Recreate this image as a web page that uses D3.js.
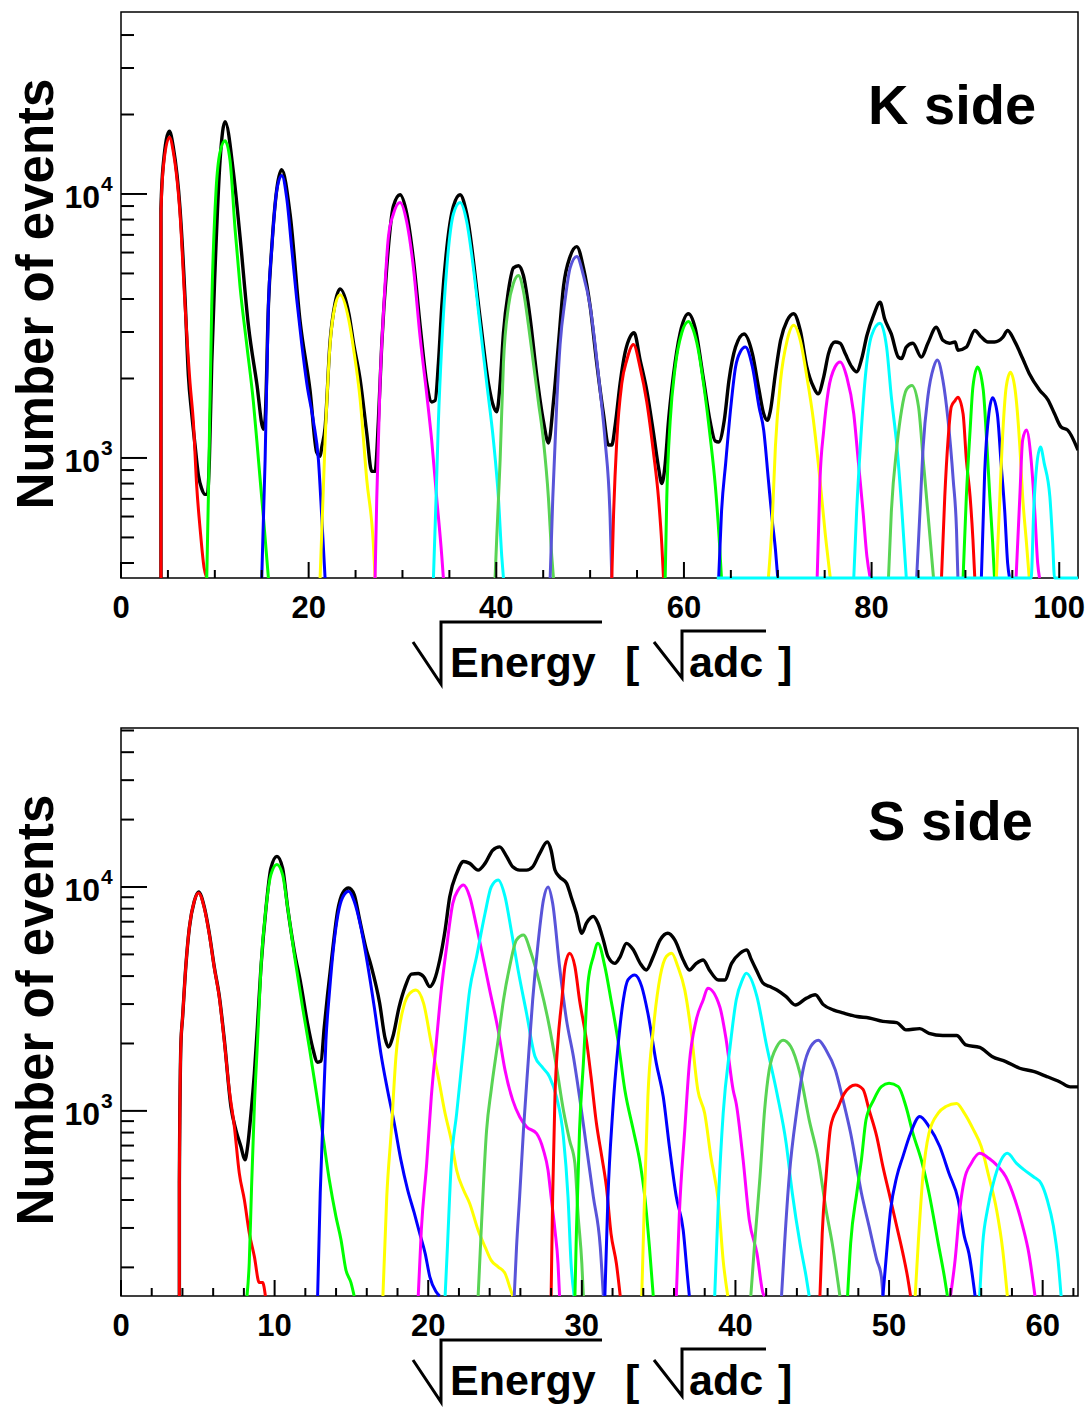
<!DOCTYPE html>
<html><head><meta charset="utf-8">
<script src="https://cdn.jsdelivr.net/npm/d3@7"></script>
<style>body{margin:0;background:#fff}svg{display:block}</style>
</head><body>
<svg id="c" width="1092" height="1411"></svg>
<script>
// ---------------- DATA ----------------
// K side: x = sqrt(energy) [sqrt(adc)], y = number of events (0 = empty bin)
const kTotal = [[4.26,0],[4.26,8800],[4.51,13000],[5.16,17300],[5.58,15000],[6.29,8800],[6.83,4000],[7.18,2060],[7.54,1470],[7.89,1120],[8.25,860],[8.6,765],[8.96,728],[9.21,728],[9.42,984],[9.67,2280],[10.03,5250],[10.56,13400],[11.09,18800],[11.98,12100],[12.69,6870],[13.58,3180],[14.47,1920],[15.18,1285],[15.36,1400],[15.71,3760],[16.07,6300],[16.6,10400],[17.13,12350],[18.02,8400],[19.09,3290],[20.15,1800],[20.86,1050],[21.22,1015],[21.4,1100],[21.75,1300],[22.28,2750],[22.81,3850],[23.35,4370],[24.3,3500],[24.8,2700],[25.48,1990],[26.19,1245],[26.72,890],[27.08,890],[27.43,1375],[27.79,2690],[28.32,5250],[29.03,8980],[29.74,9930],[30.46,8400],[31.17,5620],[31.88,3180],[32.59,1920],[33.12,1630],[33.48,1650],[33.83,2280],[34.19,3760],[34.72,6210],[35.43,8980],[36.14,9930],[36.85,8400],[38.27,3400],[39.16,1920],[39.7,1570],[40.05,1495],[40.41,1920],[40.76,2970],[41.29,4290],[41.83,5250],[42.36,5350],[42.89,4910],[43.6,3400],[44.31,2060],[45.03,1375],[45.56,1140],[46.09,1630],[46.62,2690],[47.16,4450],[47.87,5800],[48.58,6320],[49.29,5250],[50.0,3760],[50.71,2280],[51.42,1470],[51.95,1120],[52.31,1120],[52.67,1330],[53.2,1920],[53.73,2510],[54.27,2880],[54.69,2980],[55.33,2350],[56.04,1800],[56.75,1245],[57.29,920],[57.64,800],[58.0,950],[58.35,1375],[58.88,2060],[59.6,2980],[60.48,3520],[61.2,3100],[62.08,1990],[62.79,1375],[63.33,1160],[63.7,1150],[64.3,1390],[64.8,1970],[65.5,2630],[66.4,2950],[67.3,2480],[68.0,1810],[68.5,1470],[68.9,1390],[69.2,1500],[69.75,2090],[70.3,2790],[71.0,3320],[71.7,3520],[72.4,3040],[73.1,2210],[73.8,1860],[74.3,1750],[74.9,2030],[75.4,2480],[76.1,2750],[76.65,2720],[77.2,2480],[77.9,2210],[78.4,2120],[78.95,2380],[79.5,2910],[80.2,3460],[80.9,3890],[81.4,3360],[82.1,2950],[82.85,2410],[83.2,2380],[83.7,2630],[84.4,2720],[85.3,2410],[86.0,2720],[86.9,3130],[87.6,2790],[88.3,2720],[88.9,2750],[89.2,2560],[90.1,2630],[91.0,3040],[91.7,2870],[92.4,2750],[93.1,2750],[94.0,2870],[94.5,3040],[95.2,2790],[96.1,2380],[96.8,2090],[97.9,1810],[98.8,1660],[99.5,1470],[100.2,1310],[100.9,1275],[102.0,1070]];

const kRed1 = [[4.26,0],[4.26,8400],[4.51,12600],[5.16,16400],[5.58,14400],[6.29,8400],[6.83,3760],[7.36,1920],[7.71,1375],[8.07,780],[8.43,540],[8.85,385],[9.14,0]];
const kGreen1 = [[9.14,0],[9.31,703],[9.67,3760],[10.13,10300],[10.56,14400],[11.09,15900],[11.62,13400],[12.16,7350],[12.69,4450],[13.4,2690],[14.11,1630],[14.65,985],[15.18,595],[15.71,0]];
const kBlue1 = [[15.0,0],[15.36,985],[15.71,3760],[16.07,6210],[16.6,10300],[17.13,11750],[17.67,9600],[18.2,6200],[18.73,3990],[19.27,2690],[19.8,1920],[20.51,1375],[21.04,985],[21.4,595],[21.75,0]];
const kYellow1 = [[21.22,0],[21.75,1160],[22.28,2690],[22.81,3760],[23.35,4150],[24.3,3300],[24.8,2570],[25.48,1680],[26.19,830],[26.9,470],[27.08,0]];
const kMagenta1 = [[27.08,0],[27.26,703],[27.61,1920],[27.97,3520],[28.5,6870],[29.03,8400],[29.74,9290],[30.45,7850],[31.17,5250],[31.88,2870],[32.59,1740],[33.12,1160],[33.65,703],[34.19,425],[34.36,0]];
const kCyan1 = [[33.3,0],[33.58,703],[33.83,1375],[34.19,2690],[34.72,5250],[35.43,8400],[36.14,9290],[36.85,7850],[37.56,5250],[38.27,3180],[38.98,1920],[39.7,1160],[40.23,703],[40.58,425],[40.76,0]];
const kGreen8a = [[39.87,0],[40.05,500],[40.41,985],[40.76,2280],[41.3,3760],[41.83,4590],[42.36,4910],[42.89,4290],[43.43,3180],[43.96,2280],[44.49,1630],[45.03,1160],[45.56,703],[45.91,425],[46.09,0]];
const kBlue9a = [[45.74,0],[46.02,703],[46.45,1630],[46.8,2690],[47.34,3990],[47.87,5250],[48.58,5800],[49.29,4910],[50.0,3760],[50.53,2690],[51.07,1800],[51.6,1160],[52.13,595],[52.31,0]];
const kRed2 = [[52.31,0],[52.49,595],[52.84,1160],[53.38,1920],[53.91,2350],[54.62,2690],[55.33,2200],[56.04,1630],[56.75,1050],[57.29,703],[57.64,470],[57.82,0]];
const kGreen2 = [[58.0,0],[58.17,703],[58.53,1375],[59.06,2200],[59.77,2980],[60.48,3290],[61.0,3050],[61.5,2600],[62.1,1900],[62.8,1200],[63.35,780],[63.75,500],[64.0,0]];
const kBlue2 = [[63.7,0],[64.0,620],[64.45,957],[65.0,1565],[65.5,2210],[66.0,2520],[66.55,2630],[67.3,2210],[68.0,1565],[68.5,1275],[69.0,826],[69.4,585],[69.75,451],[70.0,0]];
const kYellow2 = [[69.0,0],[69.4,568],[69.75,1107],[70.3,1970],[71.0,2790],[71.7,3180],[72.4,2790],[73.1,2030],[73.8,1390],[74.5,826],[75.05,520],[75.6,0]];
const kMagenta2 = [[74.2,0],[74.5,826],[74.9,1275],[75.4,1810],[76.1,2210],[76.65,2310],[77.35,2030],[78.1,1470],[78.6,957],[79.1,620],[79.5,424],[79.85,0]];
const kCyan2 = [[78.1,0],[78.4,620],[78.8,1107],[79.3,1970],[80.0,2910],[80.9,3240],[81.6,2630],[82.1,1710],[82.7,1107],[83.2,656],[83.7,0]];
const kGreen8b = [[81.8,0],[82.1,620],[82.7,1107],[83.2,1520],[83.7,1810],[84.3,1880],[85.0,1565],[85.5,986],[86.0,620],[86.4,424],[86.6,0]];
const kBlue9b = [[84.8,0],[85.15,620],[85.5,1107],[86.0,1710],[86.6,2200],[87.0,2350],[87.6,1970],[88.15,1390],[88.7,826],[89.05,535],[89.2,0]];
const kRed3 = [[87.45,0],[87.8,714],[88.15,1170],[88.5,1565],[88.9,1650],[89.2,1700],[89.75,1470],[90.1,986],[90.5,714],[90.8,492],[91.0,0]];
const kGreen3 = [[89.75,0],[90.1,714],[90.5,1275],[90.8,1860],[91.3,2210],[91.9,1810],[92.2,1275],[92.6,714],[92.9,480],[93.1,0]];
const kBlue3 = [[91.7,0],[92.05,875],[92.5,1470],[92.9,1690],[93.4,1470],[93.8,957],[94.2,620],[94.5,400],[94.7,0]];
const kYellow3 = [[93.3,0],[93.6,620],[94.0,1275],[94.35,1860],[94.8,2110],[95.3,1810],[95.8,1107],[96.1,714],[96.5,480],[96.8,0]];
const kMagenta3 = [[95.4,0],[95.8,714],[96.1,1170],[96.5,1275],[97.0,986],[97.4,620],[97.7,400],[97.9,0]];
const kCyan3 = [[63.5,0],[97.0,0],[97.3,656],[97.6,935],[98.0,1100],[98.4,954],[99.0,714],[99.3,480],[99.5,0],[102.0,0]];

// S side
const sTotal = [[3.8,0],[3.8,475],[3.9,1990],[4.01,2620],[4.23,4520],[4.45,6580],[4.77,8630],[5.05,9500],[5.42,8150],[5.75,6200],[6.07,4400],[6.4,3250],[6.72,2100],[7.16,1040],[7.48,821],[7.81,692],[8.07,604],[8.24,692],[8.46,973],[8.68,1466],[8.89,2440],[9.11,4370],[9.44,8070],[9.76,12150],[10.15,13700],[10.52,12150],[10.85,8070],[11.28,5180],[11.71,3680],[12.15,2440],[12.47,1920],[12.8,1650],[13.02,1670],[13.23,2360],[13.45,3320],[13.77,5180],[14.1,7800],[14.43,9400],[14.82,9900],[15.18,9250],[15.51,7280],[15.94,5350],[16.3,4400],[16.83,3050],[17.2,2100],[17.4,1930],[17.7,2150],[18.1,2900],[18.5,3590],[18.9,4080],[19.35,4110],[19.7,3980],[20.1,3590],[20.4,3840],[20.75,4720],[21.1,6430],[21.4,9050],[21.85,11500],[22.3,13000],[22.7,12750],[23.25,11900],[23.7,12750],[24.2,14600],[24.65,15100],[25.1,13700],[25.5,12300],[25.95,11900],[26.4,11900],[26.8,12300],[27.25,14100],[27.75,15900],[28.0,14600],[28.25,11900],[28.55,11100],[29.0,10400],[29.3,9050],[29.65,7630],[30.0,6210],[30.3,6890],[30.75,7380],[31.05,6890],[31.4,5800],[31.7,4890],[32.15,4560],[32.5,4890],[32.9,5600],[33.35,5240],[33.8,4560],[34.2,4260],[34.65,4890],[35.1,5800],[35.6,6210],[36.05,5800],[36.6,4720],[37.0,4260],[37.45,4560],[37.9,4720],[38.3,4260],[38.9,3840],[39.3,3840],[39.75,4560],[40.3,5060],[40.75,5240],[41.0,4800],[41.36,4260],[41.8,3720],[42.2,3600],[42.7,3470],[43.3,3240],[43.9,2970],[44.6,3180],[45.2,3300],[45.7,2990],[46.4,2820],[47.0,2740],[47.9,2640],[48.7,2600],[49.6,2510],[50.5,2480],[51.1,2300],[52.0,2330],[52.6,2220],[53.5,2170],[54.4,2170],[55.0,1970],[55.9,1920],[56.7,1750],[57.6,1660],[58.5,1550],[59.4,1500],[60.2,1430],[61.1,1350],[61.8,1280],[62.3,1280]];

const sRed1 = [[3.8,0],[3.8,475],[3.9,1990],[4.01,2620],[4.23,4520],[4.45,6580],[4.77,8630],[5.05,9400],[5.42,8070],[5.75,6140],[6.07,4370],[6.4,3210],[6.72,2060],[7.05,1240],[7.38,849],[7.7,527],[8.03,401],[8.35,285],[8.68,224],[9.0,171],[9.22,171],[9.4,0]];
const sGreen1 = [[8.2,0],[8.35,210],[8.5,459],[8.68,1040],[8.89,2060],[9.11,4370],[9.44,8070],[9.76,11350],[10.15,12600],[10.52,11350],[10.85,8070],[11.28,5010],[11.82,2900],[12.26,1920],[12.69,1240],[13.12,794],[13.56,492],[13.99,338],[14.32,266],[14.64,195],[14.97,171],[15.18,0]];
const sBlue1 = [[12.8,0],[12.97,430],[13.12,821],[13.34,2060],[13.56,3320],[13.88,5740],[14.21,8070],[14.53,9250],[14.82,9570],[15.18,8630],[15.62,6580],[16.05,4520],[16.49,2900],[16.92,1800],[17.35,1240],[17.79,880],[18.22,604],[18.66,444],[19.09,350],[19.45,283],[19.8,231],[20.1,182],[20.5,156],[20.75,0]];
const sYellow1 = [[17.05,0],[17.3,413],[17.6,821],[17.9,1750],[18.4,2920],[18.8,3350],[19.2,3470],[19.7,3020],[20.2,2000],[20.65,1420],[21.1,973],[21.5,740],[21.85,543],[22.3,443],[22.7,386],[23.25,293],[23.7,247],[24.1,215],[24.55,201],[25.0,188],[25.3,164],[25.5,0]];
const sMagenta1 = [[19.35,0],[19.55,293],[19.9,582],[20.2,1156],[20.5,1930],[20.85,3470],[21.2,5410],[21.6,8450],[21.95,9700],[22.3,10200],[22.7,9050],[23.15,6650],[23.6,4720],[24.0,3470],[24.55,2300],[25.0,1520],[25.5,1117],[25.95,942],[26.4,849],[27.05,793],[27.5,668],[27.8,543],[28.0,413],[28.25,293],[28.45,208],[28.55,0]];
const sCyan1 = [[21.1,0],[21.25,247],[21.5,582],[21.85,973],[22.3,1930],[22.7,3470],[23.15,4890],[23.7,7630],[24.1,10000],[24.55,10750],[25.0,9050],[25.4,6430],[25.85,4260],[26.4,2730],[26.95,1750],[27.4,1575],[27.9,1420],[28.35,1156],[28.8,766],[29.1,413],[29.3,208],[29.5,0]];
const sGreen8a = [[23.25,0],[23.45,293],[23.8,821],[24.1,1240],[24.55,2070],[24.9,3130],[25.3,4410],[25.75,5800],[26.2,6100],[26.7,5060],[27.25,3720],[27.8,2550],[28.35,1575],[28.8,1007],[29.2,740],[29.55,582],[29.75,348],[30.0,208],[30.1,0]];
const sBlue9a = [[25.6,0],[25.75,247],[25.95,413],[26.2,821],[26.5,1630],[26.8,3130],[27.15,5600],[27.5,8750],[27.8,10000],[28.1,8450],[28.55,4410],[29.0,2550],[29.45,1750],[29.85,1156],[30.3,692],[30.75,413],[31.2,247],[31.4,0]];
const sRed2 = [[28.0,0],[28.1,413],[28.25,1156],[28.45,2070],[28.7,3130],[28.9,4410],[29.2,5060],[29.55,4410],[29.85,3130],[30.3,2070],[30.6,1420],[30.95,880],[31.3,624],[31.6,458],[31.9,283],[32.25,208],[32.5,0]];
const sGreen2 = [[29.55,0],[29.65,293],[29.85,821],[30.1,1630],[30.4,3720],[30.75,4890],[31.05,5600],[31.5,4410],[31.9,3130],[32.35,2070],[32.8,1240],[33.35,821],[33.8,582],[34.1,413],[34.4,247],[34.65,0]];
const sBlue2 = [[31.5,0],[31.7,413],[32.0,973],[32.35,1930],[32.7,3130],[33.0,3850],[33.45,4050],[33.9,3590],[34.3,2730],[34.85,1630],[35.3,1156],[35.7,692],[36.15,413],[36.6,293],[36.9,175],[37.0,0]];
const sYellow2 = [[33.9,0],[34.1,458],[34.3,1156],[34.65,2300],[35.1,3980],[35.5,4890],[35.85,5060],[36.25,4410],[36.7,3470],[37.1,2300],[37.55,1240],[38.0,973],[38.4,624],[38.9,386],[39.2,215],[39.5,0]];
const sMagenta2 = [[36.15,0],[36.35,348],[36.7,821],[37.0,1630],[37.45,2550],[37.9,3130],[38.2,3530],[38.98,2920],[39.4,2070],[39.85,1240],[40.05,1080],[40.5,604],[40.9,326],[41.4,231],[41.8,153],[41.9,0]];
const sCyan2 = [[38.65,0],[38.9,413],[39.2,973],[39.65,1930],[40.05,3130],[40.45,3850],[40.7,4120],[41.4,3240],[42.0,2000],[42.7,1200],[43.3,718],[43.7,430],[44.2,256],[44.6,182],[44.8,0]];
const sGreen8b = [[41.0,0],[41.25,256],[41.6,508],[41.9,1010],[42.2,1525],[42.7,1940],[43.1,2070],[43.6,1940],[44.2,1470],[44.8,912],[45.4,604],[45.9,361],[46.3,256],[46.8,0]];
const sBlue9b = [[43.0,0],[43.2,256],[43.5,508],[44.0,1010],[44.4,1525],[44.9,1940],[45.4,2070],[45.9,1870],[46.5,1525],[47.0,1120],[47.5,795],[48.2,430],[48.7,305],[49.2,216],[49.5,182],[49.6,0]];
const sRed3 = [[45.5,0],[45.65,284],[45.9,508],[46.2,851],[46.7,1046],[47.1,1200],[47.8,1306],[48.3,1250],[48.7,1010],[49.2,768],[49.6,564],[50.0,430],[50.5,305],[50.9,231],[51.2,182],[51.4,0]];
const sGreen3 = [[47.3,0],[47.5,256],[47.9,430],[48.2,604],[48.5,912],[49.0,1120],[49.5,1283],[50.0,1327],[50.6,1283],[51.1,1046],[51.55,795],[52.1,604],[52.6,430],[53.2,256],[53.6,182],[53.8,0]];
const sBlue3 = [[49.6,0],[49.8,216],[50.1,361],[50.5,508],[50.9,625],[51.4,795],[52.0,944],[52.6,851],[53.3,693],[53.9,527],[54.5,401],[54.9,275],[55.2,231],[55.6,0]];
const sYellow3 = [[51.7,0],[51.9,256],[52.2,508],[52.6,795],[53.2,977],[53.7,1046],[54.4,1080],[54.9,977],[55.5,822],[56.0,693],[56.5,508],[57.0,361],[57.4,239],[57.7,0]];
const sMagenta3 = [[54.0,0],[54.3,216],[54.6,361],[54.9,492],[55.35,583],[55.9,646],[56.5,614],[57.1,564],[57.6,508],[58.2,401],[58.7,305],[59.1,231],[59.5,0]];
const sCyan3 = [[55.9,0],[56.1,256],[56.4,361],[56.9,508],[57.3,604],[57.7,646],[58.3,583],[58.8,545],[59.4,508],[59.9,474],[60.3,400],[60.7,305],[61.0,216],[61.2,0]];

const kComponents = [kRed1,kGreen1,kBlue1,kYellow1,kMagenta1,kCyan1,kGreen8a,kBlue9a,kRed2,kGreen2,kBlue2,kYellow2,kMagenta2,kCyan2,kGreen8b,kBlue9b,kRed3,kGreen3,kBlue3,kYellow3,kMagenta3,kCyan3];
const sComponents = [sRed1,sGreen1,sBlue1,sYellow1,sMagenta1,sCyan1,sGreen8a,sBlue9a,sRed2,sGreen2,sBlue2,sYellow2,sMagenta2,sCyan2,sGreen8b,sBlue9b,sRed3,sGreen3,sBlue3,sYellow3,sMagenta3,sCyan3];

// ROOT colour indices 2..9, cycled
const colorCycle = ['#ff0000','#00ff00','#0000ff','#ffff00','#ff00ff','#00ffff','#59d454','#5954d9'];

const kXTicks = [0,20,40,60,80,100];
const sXTicks = [0,10,20,30,40,50,60];
const yTickLabels = [{v:1e3,base:'10',exp:'3'},{v:1e4,base:'10',exp:'4'}];
const kTitle = 'K side';
const sTitle = 'S side';
const yTitle = 'Number of events';

// ---------------- DRAW ----------------
const svg = d3.select('#c');
const FONT = "'Liberation Sans', Arial, Helvetica, sans-serif";

function drawPanel(p, idx) {
  const g = svg.append('g');
  const x = d3.scaleLinear().domain(p.xDomain).range([p.left, p.right]);
  const y = d3.scaleLog().domain(p.yDomain).range([p.bottom, p.top]).clamp(true);
  const yv = v => y(Math.max(v, p.yDomain[0]));
  const line = d3.line().x(d => x(d[0])).y(d => yv(d[1])).curve(d3.curveMonotoneX);

  const clipId = 'clip' + idx;
  svg.append('clipPath').attr('id', clipId).append('rect')
    .attr('x', p.left).attr('y', p.top)
    .attr('width', p.right - p.left).attr('height', p.bottom - p.top + 2);

  // frame
  g.append('rect').attr('x', p.left).attr('y', p.top)
    .attr('width', p.right - p.left).attr('height', p.bottom - p.top)
    .attr('fill', 'none').attr('stroke', '#000').attr('stroke-width', 1.5);

  const cg = g.append('g').attr('clip-path', `url(#${clipId})`);
  cg.append('path').datum(p.total).attr('d', line)
    .attr('fill', 'none').attr('stroke', '#000').attr('stroke-width', 3.4);
  p.components.forEach((c, i) => {
    cg.append('path').datum(c).attr('d', line)
      .attr('fill', 'none').attr('stroke', colorCycle[i % colorCycle.length])
      .attr('stroke-width', 3);
  });

  // x ticks (inside)
  const xt = g.append('g');
  const minorX = d3.range(p.xDomain[0], p.xDomain[1] + 1e-9, p.xMinor);
  minorX.forEach(v => {
    const major = Math.abs(v / p.xMajor - Math.round(v / p.xMajor)) < 1e-6;
    const len = major ? 16 : 8;
    xt.append('line').attr('x1', x(v)).attr('x2', x(v))
      .attr('y1', p.bottom).attr('y2', p.bottom - len)
      .attr('stroke', '#000').attr('stroke-width', 2);
  });
  p.xTicks.forEach(v => {
    g.append('text').attr('x', x(v)).attr('y', p.bottom + 40)
      .attr('text-anchor', 'middle').attr('font-family', FONT)
      .attr('font-weight', 'bold').attr('font-size', 31).text(v);
  });

  // y ticks (log)
  const yt = g.append('g');
  const d0 = Math.floor(Math.log10(p.yDomain[0])), d1 = Math.ceil(Math.log10(p.yDomain[1]));
  for (let d = d0; d <= d1; d++) {
    for (let m = 1; m <= 9; m++) {
      const v = m * Math.pow(10, d);
      if (v < p.yDomain[0] || v > p.yDomain[1]) continue;
      const len = m === 1 ? 26 : 13;
      yt.append('line').attr('x1', p.left).attr('x2', p.left + len)
        .attr('y1', y(v)).attr('y2', y(v))
        .attr('stroke', '#000').attr('stroke-width', 2);
    }
  }
  yTickLabels.forEach(t => {
    const yy = y(t.v);
    g.append('text').attr('x', 100).attr('y', yy + 14)
      .attr('text-anchor', 'end').attr('font-family', FONT)
      .attr('font-weight', 'bold').attr('font-size', 32).text(t.base);
    g.append('text').attr('x', 101).attr('y', yy - 3)
      .attr('text-anchor', 'start').attr('font-family', FONT)
      .attr('font-weight', 'bold').attr('font-size', 21).text(t.exp);
  });

  // y title
  g.append('text').attr('transform', `translate(53,${p.top + 282}) rotate(-90)`)
    .attr('text-anchor', 'middle').attr('font-family', FONT)
    .attr('font-weight', 'bold').attr('font-size', 51).text(yTitle);

  // panel title
  g.append('text').attr('x', 868).attr('y', p.top + 112)
    .attr('font-family', FONT).attr('font-weight', 'bold')
    .attr('font-size', 56).text(p.title);

  // x title: sqrt(Energy) [ sqrt(adc) ]
  const b = p.bottom;
  const tg = g.append('g');
  tg.append('path').attr('d', `M413,${b+64} L441,${b+106} L441,${b+44} L602,${b+44}`)
    .attr('fill', 'none').attr('stroke', '#000').attr('stroke-width', 3);
  tg.append('text').attr('x', 450).attr('y', b + 99).attr('font-family', FONT)
    .attr('font-weight', 'bold').attr('font-size', 43).text('Energy');
  tg.append('text').attr('x', 625).attr('y', b + 99).attr('font-family', FONT)
    .attr('font-weight', 'bold').attr('font-size', 43).text('[');
  tg.append('path').attr('d', `M654,${b+64} L682,${b+100} L682,${b+53} L766,${b+53}`)
    .attr('fill', 'none').attr('stroke', '#000').attr('stroke-width', 3);
  tg.append('text').attr('x', 689).attr('y', b + 99).attr('font-family', FONT)
    .attr('font-weight', 'bold').attr('font-size', 43).text('adc');
  tg.append('text').attr('x', 778).attr('y', b + 99).attr('font-family', FONT)
    .attr('font-weight', 'bold').attr('font-size', 43).text(']');
}

drawPanel({left:121, right:1078, top:12, bottom:578, xDomain:[0,102.0], yDomain:[351,48900],
  xMajor:20, xMinor:5, xTicks:kXTicks, total:kTotal, components:kComponents, title:kTitle}, 0);
drawPanel({left:121, right:1078, top:728, bottom:1296, xDomain:[0,62.3], yDomain:[149,51300],
  xMajor:10, xMinor:2, xTicks:sXTicks, total:sTotal, components:sComponents, title:sTitle}, 1);
</script>
</body></html>
